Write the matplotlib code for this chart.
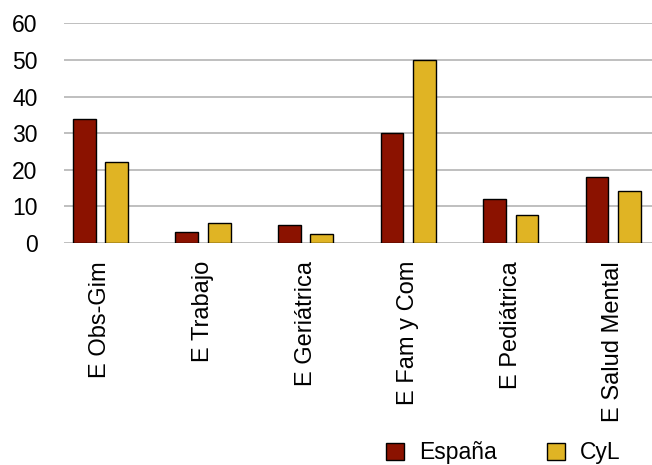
import numpy as np
import matplotlib
matplotlib.use('Agg')
import matplotlib.pyplot as plt
from matplotlib.patches import Patch

# Especialidades de enfermería y porcentajes por ámbito
categorias = ['E Obs-Gim', 'E Trabajo', 'E Geriátrica', 'E Fam y Com',
              'E Pediátrica', 'E Salud Mental']
espana = [34, 3, 5, 30, 12, 18]
cyl = [22.2, 5.5, 2.5, 50, 7.7, 14.3]
yticks = [0, 10, 20, 30, 40, 50, 60]

COLOR_ES = '#8b1200'
COLOR_CYL = '#e0b424'

plt.rcParams['font.family'] = ['Liberation Sans', 'DejaVu Sans']

fig = plt.figure(figsize=(6.52, 4.65), dpi=100)
ax = fig.add_axes([64 / 652, 222 / 465, 588 / 652, 219.5 / 465])

x = np.arange(len(categorias))
ancho = 0.22
desp = 0.1585
ax.bar(x - desp, espana, ancho, color=COLOR_ES, edgecolor='black',
       linewidth=1, zorder=3)
ax.bar(x + desp, cyl, ancho, color=COLOR_CYL, edgecolor='black',
       linewidth=1, zorder=3)

ax.set_xlim(-0.356, 5.38)
ax.set_ylim(0, 60)
ax.set_yticks(yticks)
ax.set_xticks(x)
ax.set_xticklabels(categorias, rotation=90, va='top', ha='center')
ax.tick_params(axis='y', length=0, pad=19, labelsize=16.5)
ax.tick_params(axis='x', length=0, pad=13, labelsize=17)

ax.grid(axis='y', color='#b4b4b4', linewidth=1.2, zorder=0)
for s in ax.spines.values():
    s.set_visible(False)

handles = [Patch(facecolor=COLOR_ES, edgecolor='black', linewidth=1, label='España'),
           Patch(facecolor=COLOR_CYL, edgecolor='black', linewidth=1, label='CyL')]
fig.legend(handles=handles, loc='center', bbox_to_anchor=(0.772, 0.026),
           ncol=2, frameon=False, fontsize=16.5, handlelength=0.78,
           handleheight=0.78, handletextpad=0.65, columnspacing=2.2,
           borderpad=0.1)

fig.savefig('out.png', dpi=100)
